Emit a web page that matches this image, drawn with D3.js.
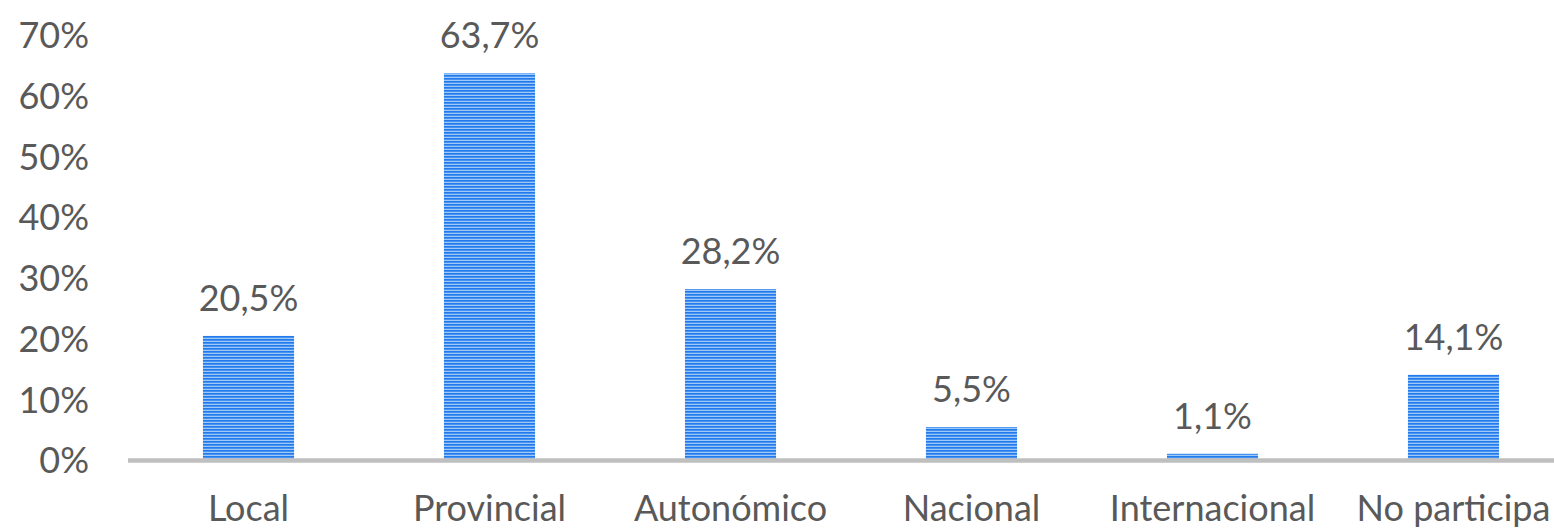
<!DOCTYPE html>
<html>
<head>
<meta charset="utf-8">
<script src="https://cdn.jsdelivr.net/npm/d3@7"></script>
<style>
  html, body { margin: 0; padding: 0; background: #ffffff; }
  svg { display: block; }
  text { font-family: Lato, "Open Sans", sans-serif; fill: #595959; }
</style>
</head>
<body>
<svg id="chart" width="1554" height="531"></svg>
<script>
const categories = ["Local", "Provincial", "Autonómico", "Nacional", "Internacional", "No participa"];
const values = [20.5, 63.7, 28.2, 5.5, 1.1, 14.1];
const valueLabels = ["20,5%", "63,7%", "28,2%", "5,5%", "1,1%", "14,1%"];
const yTicks = [0, 10, 20, 30, 40, 50, 60, 70];
const yTickLabels = ["0%", "10%", "20%", "30%", "40%", "50%", "60%", "70%"];

const svg = d3.select("#chart");
const W = 1554, H = 531;
const fontSize = 36;

const x = d3.scaleBand()
  .domain(categories)
  .range([128, 1574])
  .paddingInner(0.622)
  .paddingOuter(0.311);

const y = d3.scaleLinear()
  .domain([0, 70])
  .range([460.5, 35]);

// stripe pattern
const defs = svg.append("defs");
const pat = defs.append("pattern")
  .attr("id", "stripes")
  .attr("patternUnits", "userSpaceOnUse")
  .attr("width", 10)
  .attr("height", 3);
pat.append("rect").attr("x", 0).attr("y", 0).attr("width", 10).attr("height", 3).attr("fill", "#9fc8f8");
pat.append("rect").attr("x", 0).attr("y", 0).attr("width", 10).attr("height", 1.7).attr("fill", "#217bec");

// y tick labels
svg.append("g").selectAll("text")
  .data(yTicks)
  .join("text")
  .attr("x", 89)
  .attr("y", d => y(d))
  .attr("dy", "0.36em")
  .attr("text-anchor", "end")
  .attr("font-size", fontSize)
  .text((d, i) => yTickLabels[i]);

// bars
svg.append("g").selectAll("rect")
  .data(values)
  .join("rect")
  .attr("x", (d, i) => x(categories[i]))
  .attr("y", d => y(d))
  .attr("width", x.bandwidth())
  .attr("height", d => y(0) - y(d))
  .attr("fill", "url(#stripes)");

// axis line
svg.append("line")
  .attr("x1", 128)
  .attr("x2", W)
  .attr("y1", y(0))
  .attr("y2", y(0))
  .attr("stroke", "#bfbfbf")
  .attr("stroke-width", 4.5);

// value labels
svg.append("g").selectAll("text")
  .data(values)
  .join("text")
  .attr("x", (d, i) => x(categories[i]) + x.bandwidth() / 2)
  .attr("y", d => y(d) - 25)
  .attr("text-anchor", "middle")
  .attr("font-size", fontSize)
  .text((d, i) => valueLabels[i]);

// category labels
svg.append("g").selectAll("text")
  .data(categories)
  .join("text")
  .attr("x", d => x(d) + x.bandwidth() / 2)
  .attr("y", 521)
  .attr("text-anchor", "middle")
  .attr("font-size", fontSize)
  .text(d => d);
</script>
</body>
</html>
